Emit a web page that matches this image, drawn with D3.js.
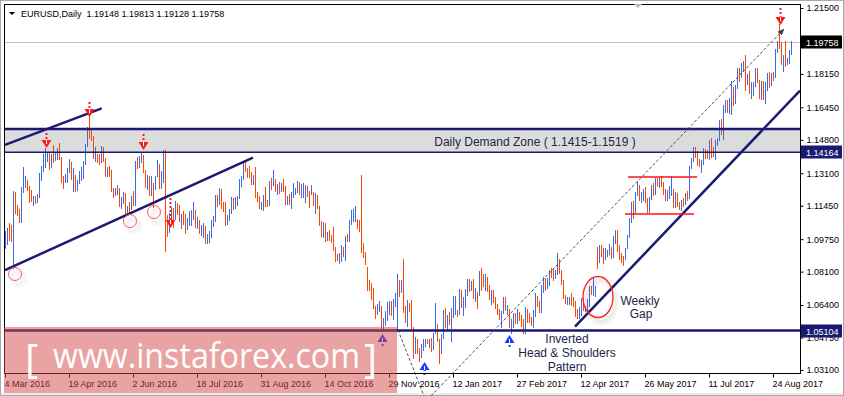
<!DOCTYPE html>
<html>
<head>
<meta charset="utf-8">
<script src="https://cdn.jsdelivr.net/npm/d3@7"></script>
<style>
body { margin: 0; background: #fff; }
svg { display: block; font-family: "Liberation Sans", Arial, sans-serif; }
</style>
</head>
<body>
<div id="chart"></div>
<script>
/**********************/
/******* data         */
/**********************/

// daily bars, 4 Mar 2016 .. 6 Sep 2017 (one line per week)
const barHigh = [
1.1016,
1.1030,1.1058,1.1046,1.1218,1.1217,
1.1150,1.1126,1.1242,1.1342,1.1297,
1.1277,1.1245,1.1225,1.1195,1.1192,
1.1206,1.1310,1.1345,1.1410,1.1438,
1.1413,1.1415,1.1410,1.1454,1.1413,
1.1437,1.1465,1.1392,1.1298,1.1306,
1.1335,1.1384,1.1365,1.1339,1.1300,
1.1274,1.1323,1.1341,1.1370,1.1460,
1.1545,1.1616,1.1531,1.1498,1.1444,
1.1406,1.1406,1.1451,1.1441,1.1390,
1.1340,1.1347,1.1329,1.1237,1.1235,
1.1250,1.1234,1.1190,1.1215,1.1209,
1.1146,1.1162,1.1195,1.1218,1.1374,
1.1394,1.1397,1.1416,1.1402,1.1327,
1.1299,1.1298,1.1298,1.1258,1.1294,
1.1375,1.1355,1.1319,1.1428,1.1427,
1.1099,1.1106,1.1135,1.1131,1.1168,
1.1159,1.1150,1.1105,1.1119,1.1105,
1.1083,1.1120,1.1122,1.1162,1.1122,
1.1090,1.1074,1.1048,1.1059,1.1041,
1.1000,1.1016,1.1071,1.1093,1.1197,
1.1198,1.1234,1.1230,1.1165,1.1165,
1.1098,1.1126,1.1190,1.1182,1.1188,
1.1194,1.1279,1.1295,1.1366,1.1368,
1.1338,1.1347,1.1314,1.1299,1.1342,
1.1214,1.1196,1.1165,1.1200,1.1240,
1.1172,1.1270,1.1284,1.1326,1.1281,
1.1255,1.1267,1.1262,1.1283,1.1246,
1.1193,1.1206,1.1213,1.1258,1.1234,
1.1269,1.1264,1.1255,1.1258,1.1250,
1.1245,1.1218,1.1249,1.1213,1.1208,
1.1200,1.1146,1.1065,1.1062,1.1058,
1.1009,1.1023,1.0995,1.1038,1.0935,
1.0902,1.0907,1.0944,1.0934,1.0990,
1.1000,1.1070,1.1124,1.1127,1.1143,
1.1080,1.1071,1.1300,1.0955,1.0910,
1.0835,1.0769,1.0753,1.0725,1.0637,
1.0647,1.0660,1.0633,1.0572,1.0612,
1.0655,1.0660,1.0663,1.0670,1.0700,
1.0796,1.0770,1.0767,1.0874,1.0634,
1.0668,1.0652,1.0668,1.0530,1.0478,
1.0469,1.0424,1.0442,1.0469,1.0466,
1.0466,1.0466,1.0474,1.0500,1.0653,
1.0544,1.0468,1.0494,1.0616,1.0623,
1.0592,1.0604,1.0624,1.0685,1.0684,
1.0617,1.0720,1.0718,1.0683,1.0721,
1.0774,1.0775,1.0764,1.0774,1.0725,
1.0709,1.0812,1.0829,1.0798,1.0797,
1.0783,1.0744,1.0719,1.0715,1.0683,
1.0645,1.0621,1.0612,1.0679,1.0680,
1.0640,1.0620,1.0568,1.0600,1.0598,
1.0619,1.0607,1.0588,1.0570,1.0630,
1.0622,1.0601,1.0580,1.0615,1.0700,
1.0687,1.0663,1.0740,1.0782,1.0778,
1.0780,1.0818,1.0828,1.0823,1.0817,
1.0906,1.0875,1.0818,1.0765,1.0691,
1.0680,1.0679,1.0702,1.0680,1.0660,
1.0618,1.0631,1.0675,1.0678,1.0634,
1.0670,1.0736,1.0736,1.0778,1.0735,
1.0937,1.0947,1.0943,1.0928,1.0932,
1.0921,1.0952,1.0936,1.0992,1.1024,
1.1021,1.0946,1.0903,1.0887,1.0932,
1.0996,1.1083,1.1162,1.1170,1.1213,
1.1268,1.1250,1.1217,1.1230,1.1238,
1.1183,1.1191,1.1250,1.1259,1.1284,
1.1285,1.1285,1.1297,1.1268,1.1228,
1.1225,1.1243,1.1296,1.1230,1.1214,
1.1210,1.1163,1.1173,1.1183,1.1212,
1.1219,1.1349,1.1387,1.1446,1.1445,
1.1425,1.1385,1.1378,1.1439,1.1433,
1.1430,1.1481,1.1490,1.1444,1.1480,
1.1490,1.1583,1.1586,1.1656,1.1681,
1.1683,1.1691,1.1777,1.1748,1.1757,
1.1845,1.1846,1.1868,1.1883,1.1910,
1.1817,1.1829,1.1773,1.1773,1.1845,
1.1846,1.1785,1.1780,1.1779,1.1773,
1.1820,1.1823,1.1822,1.1826,1.1941,
1.1983,1.2070,1.1977,1.1910,1.1980,
1.1896,1.1937,1.19813
];

const barLow = [
1.0926,
1.0944,1.0966,1.0960,1.0822,1.1104,
1.1092,1.1058,1.1055,1.1210,1.1235,
1.1222,1.1160,1.1165,1.1143,1.1155,
1.1158,1.1184,1.1271,1.1315,1.1335,
1.1366,1.1329,1.1336,1.1361,1.1370,
1.1379,1.1375,1.1260,1.1232,1.1258,
1.1260,1.1310,1.1278,1.1216,1.1215,
1.1218,1.1257,1.1270,1.1282,1.1351,
1.1441,1.1486,1.1474,1.1384,1.1366,
1.1364,1.1354,1.1361,1.1366,1.1293,
1.1289,1.1293,1.1214,1.1182,1.1193,
1.1200,1.1138,1.1130,1.1154,1.1099,
1.1097,1.1104,1.1124,1.1146,1.1144,
1.1333,1.1338,1.1364,1.1309,1.1235,
1.1226,1.1194,1.1195,1.1131,1.1223,
1.1291,1.1228,1.1229,1.1263,1.0912,
1.0985,1.1007,1.1061,1.1031,1.1074,
1.1098,1.1064,1.1028,1.1048,1.1000,
1.1020,1.1040,1.1040,1.1070,1.1032,
1.1028,1.1000,1.0992,1.0983,1.0952,
1.0952,1.0953,1.0980,1.1036,1.1060,
1.1140,1.1150,1.1130,1.1111,1.1043,
1.1045,1.1067,1.1102,1.1122,1.1130,
1.1144,1.1180,1.1241,1.1275,1.1315,
1.1286,1.1284,1.1248,1.1250,1.1185,
1.1162,1.1130,1.1123,1.1120,1.1140,
1.1137,1.1146,1.1227,1.1243,1.1214,
1.1200,1.1205,1.1215,1.1217,1.1150,
1.1149,1.1147,1.1126,1.1185,1.1199,
1.1212,1.1200,1.1182,1.1184,1.1160,
1.1190,1.1132,1.1198,1.1144,1.1104,
1.1130,1.1044,1.0986,1.0982,1.0960,
1.0964,1.0966,1.0956,1.0916,1.0860,
1.0862,1.0851,1.0859,1.0882,1.0866,
1.0960,1.0960,1.1048,1.1060,1.1060,
1.1029,1.1011,1.0906,1.0878,1.0842,
1.0711,1.0710,1.0667,1.0620,1.0568,
1.0588,1.0606,1.0518,1.0520,1.0532,
1.0560,1.0589,1.0582,1.0564,1.0628,
1.0505,1.0680,1.0700,1.0599,1.0550,
1.0528,1.0603,1.0518,1.0367,1.0391,
1.0392,1.0352,1.0373,1.0409,1.0429,
1.0440,1.0420,1.0400,1.0410,1.0493,
1.0453,1.0340,1.0390,1.0468,1.0523,
1.0506,1.0537,1.0454,1.0576,1.0588,
1.0581,1.0589,1.0627,1.0583,1.0625,
1.0687,1.0706,1.0714,1.0670,1.0656,
1.0619,1.0684,1.0713,1.0734,1.0710,
1.0706,1.0665,1.0640,1.0651,1.0618,
1.0592,1.0566,1.0521,1.0597,1.0610,
1.0590,1.0526,1.0495,1.0525,1.0544,
1.0545,1.0561,1.0529,1.0495,1.0492,
1.0550,1.0550,1.0535,1.0524,1.0581,
1.0631,1.0600,1.0602,1.0702,1.0710,
1.0723,1.0735,1.0777,1.0762,1.0771,
1.0795,1.0797,1.0741,1.0670,1.0643,
1.0640,1.0642,1.0637,1.0630,1.0581,
1.0569,1.0570,1.0583,1.0610,1.0604,
1.0606,1.0628,1.0690,1.0684,1.0682,
1.0821,1.0853,1.0886,1.0850,1.0870,
1.0882,1.0896,1.0873,1.0878,1.0950,
1.0910,1.0868,1.0856,1.0837,1.0867,
1.0925,1.0980,1.1055,1.1076,1.1108,
1.1193,1.1167,1.1160,1.1168,1.1160,
1.1110,1.1109,1.1172,1.1195,1.1198,
1.1240,1.1235,1.1240,1.1197,1.1170,
1.1168,1.1180,1.1194,1.1131,1.1135,
1.1136,1.1122,1.1119,1.1140,1.1148,
1.1169,1.1180,1.1330,1.1366,1.1390,
1.1349,1.1340,1.1312,1.1351,1.1381,
1.1384,1.1378,1.1390,1.1392,1.1378,
1.1450,1.1475,1.1505,1.1481,1.1615,
1.1618,1.1613,1.1608,1.1654,1.1664,
1.1739,1.1774,1.1795,1.1823,1.1729,
1.1760,1.1712,1.1688,1.1703,1.1750,
1.1771,1.1690,1.1681,1.1681,1.1661,
1.1730,1.1743,1.1752,1.1777,1.1795,
1.1920,1.1940,1.1860,1.1823,1.1852,
1.1859,1.1864,1.19128
];

const barClose = [
1.1002,
1.1013,1.1008,1.0995,1.1178,1.1152,
1.1106,1.1094,1.1225,1.1268,1.1270,
1.1243,1.1219,1.1180,1.1181,1.1164,
1.1197,1.1290,1.1330,1.1380,1.1390,
1.1392,1.1380,1.1409,1.1375,1.1398,
1.1405,1.1386,1.1273,1.1264,1.1286,
1.1315,1.1357,1.1289,1.1290,1.1225,
1.1265,1.1297,1.1317,1.1353,1.1452,
1.1530,1.1497,1.1490,1.1402,1.1403,
1.1388,1.1377,1.1431,1.1373,1.1308,
1.1315,1.1312,1.1221,1.1203,1.1222,
1.1224,1.1140,1.1188,1.1196,1.1114,
1.1134,1.1132,1.1186,1.1151,1.1366,
1.1357,1.1391,1.1396,1.1315,1.1252,
1.1289,1.1213,1.1266,1.1221,1.1277,
1.1316,1.1239,1.1290,1.1380,1.1110,
1.1025,1.1068,1.1124,1.1103,1.1136,
1.1134,1.1073,1.1091,1.1060,1.1050,
1.1051,1.1061,1.1093,1.1121,1.1039,
1.1073,1.1019,1.1020,1.1026,1.0977,
1.0993,1.0995,1.1061,1.1073,1.1177,
1.1165,1.1223,1.1152,1.1128,1.1086,
1.1087,1.1114,1.1181,1.1138,1.1160,
1.1183,1.1277,1.1288,1.1351,1.1327,
1.1319,1.1306,1.1267,1.1287,1.1195,
1.1191,1.1144,1.1158,1.1196,1.1155,
1.1148,1.1254,1.1240,1.1259,1.1233,
1.1238,1.1220,1.1247,1.1240,1.1155,
1.1168,1.1151,1.1187,1.1209,1.1227,
1.1252,1.1211,1.1215,1.1221,1.1240,
1.1208,1.1206,1.1211,1.1152,1.1199,
1.1139,1.1056,1.1004,1.1054,1.0972,
1.0998,1.0976,1.0975,1.0929,1.0882,
1.0880,1.0880,1.0919,1.0895,1.0985,
1.0980,1.1058,1.1090,1.1108,1.1141,
1.1041,1.1024,1.0910,1.0895,1.0852,
1.0733,1.0720,1.0690,1.0626,1.0587,
1.0627,1.0632,1.0550,1.0552,1.0589,
1.0614,1.0650,1.0587,1.0663,1.0665,
1.0720,1.0719,1.0763,1.0617,1.0559,
1.0637,1.0625,1.0530,1.0415,1.0450,
1.0402,1.0386,1.0427,1.0435,1.0456,
1.0455,1.0456,1.0405,1.0497,1.0517,
1.0457,1.0402,1.0487,1.0604,1.0532,
1.0573,1.0555,1.0584,1.0616,1.0641,
1.0601,1.0710,1.0631,1.0661,1.0705,
1.0755,1.0725,1.0748,1.0684,1.0698,
1.0690,1.0799,1.0766,1.0760,1.0785,
1.0748,1.0686,1.0695,1.0660,1.0637,
1.0600,1.0575,1.0604,1.0673,1.0617,
1.0617,1.0536,1.0558,1.0586,1.0562,
1.0606,1.0574,1.0546,1.0505,1.0620,
1.0583,1.0570,1.0544,1.0580,1.0672,
1.0655,1.0605,1.0735,1.0766,1.0740,
1.0744,1.0808,1.0797,1.0782,1.0800,
1.0865,1.0814,1.0764,1.0678,1.0652,
1.0667,1.0670,1.0662,1.0646,1.0643,
1.0600,1.0618,1.0673,1.0614,1.0617,
1.0649,1.0731,1.0718,1.0718,1.0725,
1.0857,1.0932,1.0908,1.0873,1.0896,
1.0903,1.0929,1.0884,1.0984,1.0995,
1.0928,1.0873,1.0872,1.0864,1.0932,
1.0982,1.1069,1.1158,1.1101,1.1209,
1.1240,1.1181,1.1182,1.1220,1.1182,
1.1163,1.1181,1.1242,1.1215,1.1280,
1.1254,1.1276,1.1259,1.1214,1.1196,
1.1208,1.1211,1.1220,1.1149,1.1198,
1.1149,1.1132,1.1167,1.1152,1.1195,
1.1183,1.1338,1.1374,1.1445,1.1424,
1.1363,1.1346,1.1350,1.1422,1.1400,
1.1398,1.1466,1.1415,1.1398,1.1470,
1.1478,1.1557,1.1518,1.1632,1.1664,
1.1640,1.1646,1.1731,1.1677,1.1750,
1.1839,1.1803,1.1858,1.1858,1.1774,
1.1791,1.1753,1.1757,1.1768,1.1823,
1.1778,1.1735,1.1770,1.1722,1.1761,
1.1813,1.1760,1.1809,1.1799,1.1924,
1.1977,1.1965,1.1889,1.1908,1.1859,
1.1889,1.1915,1.19758
];

// opens that differ from the previous close
const firstOpen = 1.0950;
const gapOpens = [[296, 1.0930]];

const dateLabels = ["4 Mar 2016", "19 Apr 2016", "2 Jun 2016", "18 Jul 2016", "31 Aug 2016",
    "14 Oct 2016", "29 Nov 2016", "12 Jan 2017", "27 Feb 2017", "12 Apr 2017",
    "26 May 2017", "11 Jul 2017", "24 Aug 2017"];
const barsPerLabel = 32;

const priceTicks = [1.215, 1.1815, 1.1645, 1.148, 1.131, 1.1145, 1.0975, 1.081, 1.064, 1.0475, 1.031];

const bidPrice = 1.19758;
const zoneLow = 1.14164;
const zoneHigh = 1.1535;
const supportLevel = 1.05104;

// drawn objects, [bar index, price]
const channelUpper = [[0, 1.1454], [48.35, 1.1640]];
const channelLower = [[0, 1.0818], [124, 1.1389]];
const trendLine = [[285, 1.0530], [397.5, 1.1730]];
const dashDown = [[196.5, 1.0513], [209.5, 1.0178]];
const dashUp = [[213, 1.0178], [389.5, 1.2043]];
const rangeTop = [[311.5, 1.1291], [346, 1.1291]];
const rangeBottom = [[310, 1.1103], [344.5, 1.1103]];
const sellArrows = [[20.5, 1.1438, 15], [42, 1.1596, 15], [69, 1.1428, 16], [82.5, 1.1032, 30], [387.5, 1.2064, 17]];
const buyArrows = [[188.5, 1.0493, 12], [209.5, 1.0351, 13], [252, 1.0488, 12]];
const touchCircles = [[5, 1.0798], [62.5, 1.1067], [74.5, 1.1113]];
const gapEllipse = [296.5, 1.0681];

/**********************/
/******* d3           */
/**********************/

const W = 844, H = 396;
const plotL = 4, plotR = 800, plotT = 4, plotB = 373;
const navy = "#1a1a72";
const upColor = "#4169e1";
const downColor = "#ff4500";

const svg = d3.select("#chart").append("svg")
    .attr("width", W)
    .attr("height", H);

const defs = svg.append("defs");
const shadow = defs.append("filter").attr("id", "shadow")
    .attr("x", "-50%").attr("y", "-50%").attr("width", "200%").attr("height", "200%");
shadow.append("feDropShadow")
    .attr("dx", 3).attr("dy", 4).attr("stdDeviation", 2)
    .attr("flood-color", "#000").attr("flood-opacity", 0.28);
defs.append("marker").attr("id", "head")
    .attr("viewBox", "0 0 10 10").attr("refX", 9).attr("refY", 5)
    .attr("markerWidth", 7).attr("markerHeight", 7)
    .attr("orient", "auto")
    .append("path").attr("d", "M0,1L10,5L0,9Z").attr("fill", "#3a3f55");

const x = d3.scaleLinear().domain([0, 393]).range([5, 791]);
const y = d3.scaleLinear().domain([1.031, 1.215]).range([370, 8]);
const line = d3.line().x(d => x(d[0])).y(d => y(d[1]));

// background and window border
svg.append("rect").attr("width", W).attr("height", H).attr("fill", "#fff");
svg.append("rect").attr("x", 0).attr("y", 393).attr("width", W).attr("height", 3).attr("fill", "#ececec");
svg.append("rect").attr("x", 0.5).attr("y", 0.5).attr("width", W - 1).attr("height", H - 1)
    .attr("fill", "none").attr("stroke", "#a8a8a8");

// demand zone
svg.append("rect")
    .attr("x", plotL).attr("y", y(zoneHigh))
    .attr("width", plotR - plotL).attr("height", y(zoneLow) - y(zoneHigh))
    .attr("fill", "#dcdcdc");

// bid line
svg.append("line")
    .attr("x1", plotL).attr("x2", plotR)
    .attr("y1", Math.round(y(bidPrice)) + 0.5).attr("y2", Math.round(y(bidPrice)) + 0.5)
    .attr("stroke", "#c0c0c0");

// bars
function openOf(i) {
    const g = gapOpens.find(d => d[0] === i);
    if (g) return g[1];
    return i === 0 ? firstOpen : barClose[i - 1];
}

svg.append("g").attr("class", "bars")
    .selectAll("line")
    .data(barClose)
    .join("line")
    .attr("x1", (d, i) => Math.round(x(i)) + 0.5)
    .attr("x2", (d, i) => Math.round(x(i)) + 0.5)
    .attr("y1", (d, i) => y(barHigh[i]))
    .attr("y2", (d, i) => y(barLow[i]))
    .attr("stroke", (d, i) => d >= openOf(i) ? upColor : downColor)
    .attr("stroke-width", 1)
    .attr("shape-rendering", "crispEdges");

// horizontal levels
svg.append("line").attr("x1", plotL).attr("x2", plotR)
    .attr("y1", y(zoneHigh)).attr("y2", y(zoneHigh))
    .attr("stroke", navy).attr("stroke-width", 2.5);
svg.append("line").attr("x1", plotL).attr("x2", plotR)
    .attr("y1", y(zoneLow)).attr("y2", y(zoneLow))
    .attr("stroke", navy).attr("stroke-width", 1.5);
svg.append("line").attr("x1", plotL).attr("x2", plotR)
    .attr("y1", y(supportLevel)).attr("y2", y(supportLevel))
    .attr("stroke", navy).attr("stroke-width", 2.6);

svg.append("text")
    .attr("x", 535).attr("y", 146)
    .attr("text-anchor", "middle")
    .attr("font-size", 12).attr("fill", "#22264a")
    .text("Daily Demand Zone ( 1.1415-1.1519 )");

// trend lines
[channelUpper, channelLower, trendLine].forEach(pts => {
    svg.append("path").attr("d", line(pts))
        .attr("fill", "none").attr("stroke", navy).attr("stroke-width", 2.5);
});

svg.append("path").attr("d", line(dashDown))
    .attr("fill", "none").attr("stroke", "#4a4f63").attr("stroke-width", 1)
    .attr("stroke-dasharray", "3,2");
svg.append("path").attr("d", line(dashUp))
    .attr("fill", "none").attr("stroke", "#4a4f63").attr("stroke-width", 1)
    .attr("stroke-dasharray", "3,2")
    .attr("marker-end", "url(#head)");

[rangeTop, rangeBottom].forEach(pts => {
    svg.append("path").attr("d", line(pts))
        .attr("fill", "none").attr("stroke", "#ff1010").attr("stroke-width", 1.5);
});

// circles and the gap ellipse
svg.append("g").selectAll("circle")
    .data(touchCircles)
    .join("circle")
    .attr("cx", d => x(d[0])).attr("cy", d => y(d[1]))
    .attr("r", 6.5)
    .attr("fill", "none").attr("stroke", "#ff5a5a").attr("stroke-width", 1)
    .attr("filter", "url(#shadow)");

svg.append("ellipse")
    .attr("cx", x(gapEllipse[0])).attr("cy", y(gapEllipse[1]))
    .attr("rx", 15).attr("ry", 20.5)
    .attr("fill", "none").attr("stroke", "#ff2020").attr("stroke-width", 1.3)
    .attr("filter", "url(#shadow)");

// arrows
function arrow(d, dir, color) {
    const cx = Math.round(x(d[0])) + 0.5, tip = y(d[1]), len = d[2];
    const g = svg.append("g");
    g.append("line")
        .attr("x1", cx).attr("x2", cx)
        .attr("y1", tip - dir * len).attr("y2", tip - dir * 7)
        .attr("stroke", color).attr("stroke-width", 2).attr("stroke-dasharray", "2,2");
    g.append("path")
        .attr("d", `M${cx - 5},${tip - dir * 8}L${cx + 5},${tip - dir * 8}L${cx},${tip}Z`)
        .attr("fill", color);
    g.append("line")
        .attr("x1", cx).attr("x2", cx)
        .attr("y1", tip - dir * 8).attr("y2", tip - dir * 4)
        .attr("stroke", "#fff").attr("stroke-width", 1);
}
sellArrows.forEach(d => arrow(d, 1, "#ff1a1a"));
buyArrows.forEach(d => arrow(d, -1, "#1a3cff"));

// notes
svg.append("text").attr("x", 640).attr("y", 305)
    .attr("text-anchor", "middle").attr("font-size", 12).attr("fill", "#22264a")
    .text("Weekly");
svg.append("text").attr("x", 641).attr("y", 318)
    .attr("text-anchor", "middle").attr("font-size", 12).attr("fill", "#22264a")
    .text("Gap");
["Inverted", "Head & Shoulders", "Pattern"].forEach((t, k) => {
    svg.append("text").attr("x", 567).attr("y", 343 + k * 14)
        .attr("text-anchor", "middle").attr("font-size", 12).attr("fill", "#22264a")
        .text(t);
});

// frame
svg.append("rect")
    .attr("x", plotL + 0.5).attr("y", plotT + 0.5)
    .attr("width", plotR - plotL).attr("height", plotB - plotT)
    .attr("fill", "none").attr("stroke", "#000").attr("stroke-width", 1);

// chart shift marker
svg.append("path").attr("d", "M634,4L642,4L638,8Z").attr("fill", "#b8b8b8");

// title
svg.append("path").attr("d", "M9,12L15,12L12,15Z").attr("fill", "#000");
svg.append("text").attr("x", 21).attr("y", 17)
    .attr("font-size", 9).attr("fill", "#000")
    .attr("xml:space", "preserve")
    .text("EURUSD,Daily  1.19148 1.19813 1.19128 1.19758");

// axes
const xAxis = svg.append("g")
    .attr("transform", `translate(0, ${plotB + 0.5})`)
    .call(d3.axisBottom(x)
        .tickValues(dateLabels.map((d, k) => k * barsPerLabel))
        .tickFormat((d, k) => dateLabels[k])
        .tickSize(4));
xAxis.select(".domain").remove();
xAxis.selectAll("text").attr("text-anchor", "start").attr("x", -1)
    .attr("font-family", "Liberation Sans, Arial, sans-serif").attr("font-size", 9).attr("fill", "#000");

const yAxis = svg.append("g")
    .attr("transform", `translate(${plotR + 0.5}, 0)`)
    .call(d3.axisRight(y)
        .tickValues(priceTicks)
        .tickFormat(d3.format(".5f"))
        .tickSize(3).tickPadding(3));
yAxis.select(".domain").remove();
yAxis.selectAll("text")
    .attr("font-family", "Liberation Sans, Arial, sans-serif").attr("font-size", 9).attr("fill", "#000");

// watermark
svg.append("rect")
    .attr("x", plotL).attr("y", 327)
    .attr("width", 393).attr("height", 66)
    .attr("fill", "rgb(214,72,72)").attr("opacity", 0.5);
svg.append("text").attr("x", 25).attr("y", 373)
    .attr("font-family", "Open Sans, sans-serif").attr("font-size", 40).attr("fill", "#fff")
    .text("[");
svg.append("text").attr("x", 53).attr("y", 368)
    .attr("font-family", "Open Sans, sans-serif").attr("font-size", 34).attr("fill", "#fff")
    .attr("textLength", 307).attr("lengthAdjust", "spacingAndGlyphs")
    .text("www.instaforex.com");
svg.append("text").attr("x", 364).attr("y", 373)
    .attr("font-family", "Open Sans, sans-serif").attr("font-size", 40).attr("fill", "#fff")
    .text("]");

// price boxes
[[bidPrice, "#000"], [zoneLow, navy], [supportLevel, navy]].forEach(([v, c]) => {
    const cy = Math.round(y(v));
    svg.append("rect").attr("x", 801).attr("y", cy - 6.5)
        .attr("width", 41).attr("height", 13).attr("fill", c);
    svg.append("text").attr("x", 806).attr("y", cy + 3.5)
        .attr("font-size", 9).attr("fill", "#fff")
        .text(d3.format(".5f")(v));
});
</script>
</body>
</html>
